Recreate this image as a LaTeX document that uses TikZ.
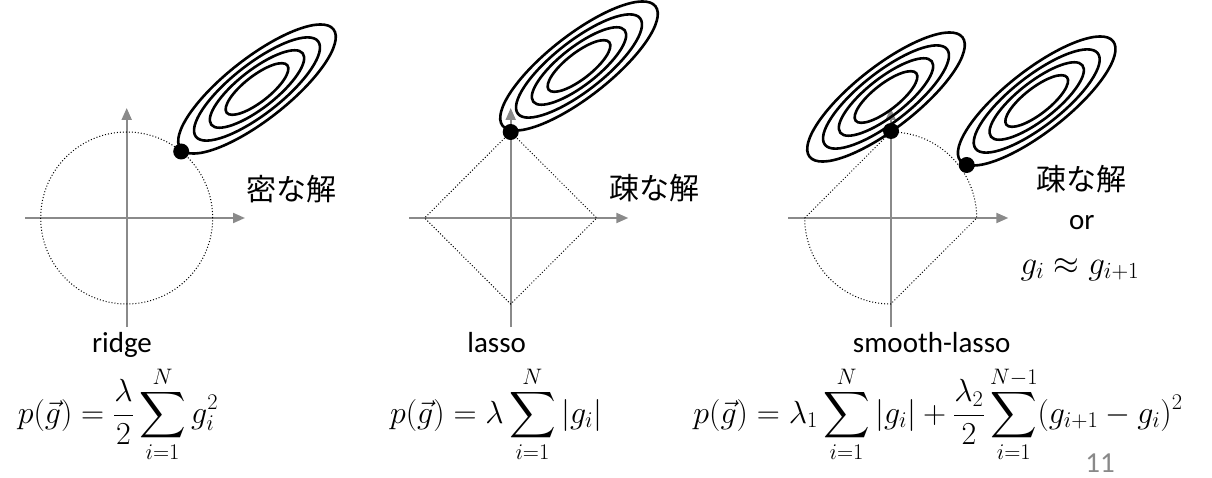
\documentclass[tikz,border=0pt]{standalone}
\usepackage{fix-cm}
\usepackage{exscale}
\usepackage{graphicx}
\usepackage[no-math]{fontspec}
\setmainfont{Carlito}
\newfontfamily\jpfont{Noto Sans CJK JP}
\usetikzlibrary{arrows.meta}
\definecolor{axisgray}{RGB}{138,138,138}
\definecolor{numgray}{RGB}{137,137,137}
\newcommand{\Bsum}{\mathop{\vcenter{\hbox{\scalebox{1.3}{$\displaystyle\sum$}}}}\limits}
\begin{document}
\begin{tikzpicture}[x=1pt,y=1pt,
  axis/.style={draw=axisgray, line width=2pt, -{Triangle[length=12pt,width=10pt]}},
  bound/.style={draw=black, line width=1pt, dash pattern=on 1pt off 2pt},
  ell/.style={draw=black, line width=2.6pt},
  sol/.style={fill=black, circle, inner sep=0pt, minimum size=16pt},
  jp/.style={font=\jpfont\fontsize{30}{36}\selectfont, anchor=base, inner sep=0pt},
  lbl/.style={font=\fontsize{29}{34}\selectfont, anchor=base, inner sep=0pt},
  fml/.style={font=\fontsize{32}{40}\selectfont, anchor=base, inner sep=0pt},
  ellset/.pic={\foreach \ra/\rb in {97/31,77.5/25,58/19,38.5/13} \draw[ell] (0,0) ellipse [x radius=\ra, y radius=\rb];}
]
\useasboundingbox (0,0) rectangle (1212,477);

% ---------- panel 1: ridge ----------
\coordinate (o1) at (126.7,259);
\coordinate (v1s) at (126.7,150); \coordinate (v1e) at (126.7,369);
\coordinate (h1s) at (25,259);    \coordinate (h1e) at (245,259);
\draw[axis] (v1s) -- (v1e);
\draw[axis] (h1s) -- (h1e);
\draw[bound] (o1) circle [radius=86];
\pic[rotate=38] at (257,388) {ellset};
\node[sol] (d1) at (181.2,325.5) {};
\node[jp] (t1) at (291,276) {密な解};
\node[lbl] (n1) at (122,125) {ridge};
\node[fml] (f1) at (118,54) {$\displaystyle p(\vec{g})=\frac{\lambda}{2}\Bsum_{i=1}^{N}g_i^2$};

% ---------- panel 2: lasso ----------
\coordinate (o2) at (510.7,259);
\coordinate (v2s) at (510.7,150); \coordinate (v2e) at (510.7,369);
\coordinate (h2s) at (409.3,259); \coordinate (h2e) at (628.3,259);
\draw[axis] (v2s) -- (v2e);
\draw[axis] (h2s) -- (h2e);
\draw[bound] (510.7,345) -- (596.7,259) -- (510.7,173) -- (424.7,259) -- cycle;
\pic[rotate=38] at (579,411) {ellset};
\node[sol] (d2) at (510.7,345) {};
\node[jp] (t2) at (654,277) {疎な解};
\node[lbl] (n2) at (496.7,125) {lasso};
\node[fml] (f2) at (496,54) {$\displaystyle p(\vec{g})=\lambda\Bsum_{i=1}^{N}|g_i|$};

% ---------- panel 3: smooth-lasso ----------
\coordinate (o3) at (890.7,259);
\coordinate (v3s) at (890.7,150); \coordinate (v3e) at (890.7,369);
\coordinate (h3s) at (788.3,259); \coordinate (h3e) at (1008.3,259);
\draw[axis] (v3s) -- (v3e);
\draw[axis] (h3s) -- (h3e);
\draw[bound] (804.7,259) -- (890.7,345) arc [start angle=90, end angle=0, radius=86]
  -- (890.7,173) arc [start angle=270, end angle=180, radius=86] -- cycle;
\pic[rotate=38] at (886,380) {ellset};
\pic[rotate=38] at (1036.7,376) {ellset};
\node[sol] (d3) at (891,346) {};
\node[sol] (d4) at (966.7,312) {};
\node[jp] (t3) at (1081.5,286) {疎な解};
\node[lbl] (t4) at (1081.7,247) {or};
\node[lbl, font=\fontsize{33}{40}\selectfont] (t5) at (1080,203) {$g_i\approx g_{i+1}$};
\node[lbl] (n3) at (931.7,125) {smooth-lasso};
\node[fml] (f3) at (938,54) {$\displaystyle p(\vec{g})=\lambda_1\Bsum_{i=1}^{N}|g_i|+\frac{\lambda_2}{2}\Bsum_{i=1}^{N-1}(g_{i+1}-g_i)^2$};

% page number
\node[lbl, text=numgray] (pg) at (1100,5) {11};
\end{tikzpicture}
\end{document}
